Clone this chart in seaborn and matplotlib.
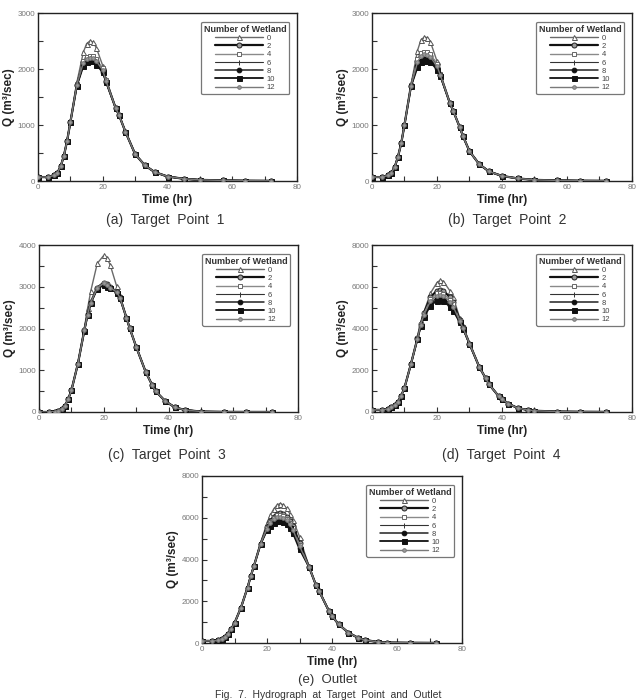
import matplotlib
matplotlib.use("Agg")
import matplotlib.pyplot as plt
import seaborn as sns
import numpy as np

sns.set_style("ticks")
plt.rcParams['font.family'] = ['Liberation Sans', 'DejaVu Sans']

WETLANDS = ["0", "2", "4", "6", "8", "10", "12"]
CAPTIONS = ["(a)  Target  Point  1", "(b)  Target  Point  2", "(c)  Target  Point  3",
            "(d)  Target  Point  4", "(e)  Outlet"]
YMAX = [3000, 3000, 4000, 8000, 8000]
YMAJOR = [1000, 1000, 1000, 2000, 2000]
XTICKS = [0, 20, 40, 60, 80]

# ---------------- Target Point 1 ----------------
time_a = [0, 3, 5, 6, 7, 8, 9, 10, 12, 14, 15, 16, 17, 18, 20, 21, 24, 25, 27, 30, 33, 36, 40, 45, 50, 57, 64, 72]
a_pre = [70, 70, 100, 150, 260, 450, 720, 1050]           # t = 0..10
a_post = [1300, 1180, 880, 480, 280, 160, 80, 40, 20, 10, 5, 3]   # t = 24..72
a_w0 = [1760, 2300, 2450, 2500, 2480, 2380, 2060, 1830]   # t = 12..21
a_w2 = [1720, 2120, 2190, 2210, 2200, 2150, 1990, 1790]
a_w4 = [1725, 2150, 2220, 2240, 2230, 2180, 2010, 1800]
a_w6 = [1715, 2090, 2170, 2190, 2180, 2120, 1970, 1780]
a_w8 = [1710, 2070, 2150, 2170, 2160, 2100, 1950, 1775]
a_w10 = [1700, 2050, 2130, 2150, 2140, 2080, 1940, 1770]
a_w12 = [1718, 2110, 2180, 2200, 2190, 2140, 1980, 1785]

# ---------------- Target Point 2 ----------------
time_b = [0, 3, 5, 6, 7, 8, 9, 10, 12, 14, 15, 16, 17, 18, 20, 21, 24, 25, 27, 28, 30, 33, 36, 40, 45, 50, 57, 64, 72]
b_pre = [70, 70, 100, 150, 250, 435, 675, 1005]
b_post = [1385, 1250, 960, 800, 530, 300, 170, 90, 45, 20, 10, 5, 3]
b_w0 = [1720, 2330, 2510, 2570, 2560, 2480, 2140, 1920]
b_w2 = [1705, 2150, 2260, 2290, 2280, 2240, 2070, 1900]
b_w4 = [1708, 2170, 2280, 2310, 2300, 2260, 2090, 1910]
b_w6 = [1695, 2080, 2170, 2200, 2190, 2160, 2030, 1890]
b_w8 = [1692, 2060, 2150, 2180, 2170, 2140, 2010, 1885]
b_w10 = [1690, 2030, 2120, 2150, 2150, 2120, 1990, 1880]
b_w12 = [1700, 2120, 2230, 2260, 2250, 2210, 2050, 1895]

# ---------------- Target Point 3 ----------------
time_c = [0, 3, 5, 6, 7, 8, 9, 10, 12, 14, 15, 16, 18, 20, 21, 22, 24, 25, 27, 28, 30, 33, 35, 36, 39, 42, 45, 50, 57, 64, 72]
c_pre = [0, 0, 10, 30, 80, 150, 305, 515, 1150]             # t = 0..12
c_post = [2260, 2010, 1565, 950, 640, 500, 260, 110, 50, 10, 3, 2, 1]  # t = 27..72
c_w0 = [2000, 2480, 2900, 3560, 3750, 3690, 3520, 3010, 2790]  # t = 14..25
c_w2 = [1960, 2340, 2630, 2980, 3100, 3060, 2990, 2880, 2745]
c_w4 = [1958, 2338, 2625, 2975, 3090, 3050, 2985, 2875, 2742]
c_w6 = [1952, 2332, 2620, 2960, 3060, 3025, 2970, 2870, 2738]
c_w8 = [1950, 2330, 2615, 2955, 3050, 3015, 2965, 2865, 2735]
c_w10 = [1948, 2328, 2610, 2950, 3040, 3005, 2960, 2860, 2732]
c_w12 = [1955, 2335, 2622, 2970, 3080, 3040, 2980, 2872, 2740]

# ---------------- Target Point 4 ----------------
time_d = [0, 3, 5, 6, 7, 8, 9, 10, 12, 14, 15, 16, 18, 20, 21, 22, 24, 25, 27, 28, 30, 33, 35, 36, 39, 40, 42, 45, 48, 50, 57, 64, 72]
d_pre = [100, 100, 150, 220, 330, 500, 780, 1160, 2310]     # t = 0..12
d_post = [2160, 1610, 1330, 750, 620, 390, 180, 100, 60, 20, 10, 5]  # t = 33..72
d_w0 = [3560, 4250, 4800, 5700, 6200, 6320, 6250, 5800, 5500, 4500, 4100, 3300]  # t = 14..30
d_w2 = [3540, 4230, 4750, 5500, 5820, 5850, 5800, 5500, 5250, 4400, 4050, 3280]
d_w4 = [3530, 4200, 4700, 5400, 5680, 5700, 5650, 5380, 5150, 4380, 4040, 3270]
d_w6 = [3510, 4150, 4620, 5250, 5480, 5500, 5450, 5200, 4980, 4330, 4020, 3260]
d_w8 = [3505, 4120, 4580, 5170, 5400, 5420, 5370, 5120, 4920, 4310, 4010, 3255]
d_w10 = [3500, 4100, 4550, 5100, 5330, 5350, 5300, 5050, 4850, 4300, 4000, 3250]
d_w12 = [3520, 4180, 4660, 5320, 5580, 5600, 5550, 5280, 5050, 4350, 4030, 3270]

# ---------------- Outlet ----------------
time_e = [0, 3, 5, 6, 7, 8, 9, 10, 12, 14, 15, 16, 18, 20, 21, 22, 23, 24, 25, 26, 27, 28, 30,
          33, 35, 36, 39, 40, 42, 45, 48, 50, 54, 57, 64, 72]
e_pre = [100, 100, 120, 200, 300, 450, 680, 950, 1700, 2650, 3200, 3700]   # t = 0..16
e_post = [3620, 2800, 2500, 1550, 1300, 900, 500, 250, 150, 50, 20, 10, 5]  # t = 33..72
e_w0 = [4780, 5750, 6120, 6400, 6600, 6680, 6620, 6450, 6200, 5900, 5100]  # t = 18..30
e_w2 = [4750, 5550, 5850, 6050, 6200, 6250, 6200, 6050, 5850, 5600, 4800]
e_w4 = [4750, 5500, 5800, 6000, 6120, 6150, 6100, 5950, 5750, 5500, 4700]
e_w6 = [4730, 5450, 5700, 5870, 5970, 6000, 5950, 5820, 5620, 5370, 4600]
e_w8 = [4730, 5420, 5650, 5810, 5900, 5920, 5880, 5750, 5560, 5320, 4560]
e_w10 = [4720, 5400, 5600, 5750, 5830, 5850, 5800, 5680, 5500, 5250, 4500]
e_w12 = [4740, 5480, 5750, 5920, 6020, 6050, 6000, 5870, 5680, 5420, 4650]

panels = [
    (time_a, a_pre, [a_w0, a_w2, a_w4, a_w6, a_w8, a_w10, a_w12], a_post),
    (time_b, b_pre, [b_w0, b_w2, b_w4, b_w6, b_w8, b_w10, b_w12], b_post),
    (time_c, c_pre, [c_w0, c_w2, c_w4, c_w6, c_w8, c_w10, c_w12], c_post),
    (time_d, d_pre, [d_w0, d_w2, d_w4, d_w6, d_w8, d_w10, d_w12], d_post),
    (time_e, e_pre, [e_w0, e_w2, e_w4, e_w6, e_w8, e_w10, e_w12], e_post),
]

# styles: (line colour, linewidth, marker, marker face, marker edge, marker size)
STYLES = [
    ("#6a6a6a", 1.0, "^", "white", "#555555", 3.6),
    ("#111111", 1.6, "o", "#9a9a9a", "#222222", 3.6),
    ("#8a8a8a", 1.0, "s", "white", "#666666", 3.4),
    ("#333333", 0.8, "+", "#333333", "#333333", 3.6),
    ("#222222", 1.1, "o", "#111111", "#111111", 3.4),
    ("#111111", 1.3, "s", "#111111", "#111111", 3.6),
    ("#7a7a7a", 1.0, "o", "#9a9a9a", "#777777", 2.6),
]

W, H = 642, 700
fig = plt.figure(figsize=(W / 100, H / 100), dpi=100)
fig.patch.set_facecolor("white")

# axes rectangles in pixels: left, top, right, bottom
RECTS = [(38, 13, 297, 181), (372, 13, 632, 181),
         (39, 245, 298, 412), (372, 245, 632, 412),
         (202, 476, 462, 643)]
CAP_POS = [(165, 220), (507, 220), (167, 455), (501, 455), (328, 680)]
CAP_SIZE = [10, 10, 10, 10, 9.5]

for i, (t, pre, series, post) in enumerate(panels):
    l, tp, r, b = RECTS[i]
    ax = fig.add_axes([l / W, 1 - b / H, (r - l) / W, (b - tp) / H])
    for k, mid in enumerate(series):
        q = pre + mid + post
        col, lw, mk, mfc, mec, ms = STYLES[k]
        sns.lineplot(x=t, y=q, ax=ax, color=col, linewidth=lw, marker=mk,
                     markerfacecolor=mfc, markeredgecolor=mec, markersize=ms,
                     markeredgewidth=0.7, label=WETLANDS[k], sort=False, zorder=3 + k * 0.1)
    ax.set_xlim(0, 80)
    ax.set_ylim(0, YMAX[i])
    ax.set_xticks(XTICKS)
    ax.set_xticks([10, 30, 50, 70], minor=True)
    ax.set_yticks(np.arange(0, YMAX[i] + 1, YMAJOR[i]))
    ax.set_yticks(np.arange(YMAJOR[i] / 2, YMAX[i], YMAJOR[i]), minor=True)
    ax.tick_params(which="both", direction="in", labelsize=5.8, labelcolor="#777777",
                   color="#333333", width=0.8, pad=2)
    ax.tick_params(which="major", length=3.5)
    ax.tick_params(which="minor", length=3.5)
    for sp in ax.spines.values():
        sp.set_linewidth(1.0)
        sp.set_color("#222222")
    ax.set_xlabel("Time (hr)", fontsize=8.5, fontweight="bold", color="#222222", labelpad=2)
    ax.set_ylabel("Q (m³/sec)", fontsize=8.5, fontweight="bold", color="#222222", labelpad=2)
    leg = ax.legend(title="Number of Wetland", loc="upper right", bbox_to_anchor=(0.985, 0.97),
                    fontsize=5.5, title_fontsize=6.5, handlelength=6.2, handletextpad=0.5,
                    labelspacing=0.12, borderpad=0.35, frameon=True, fancybox=True,
                    edgecolor="#777777", framealpha=1)
    leg.get_frame().set_linewidth(0.9)
    leg.get_title().set_fontweight("bold")
    leg.get_title().set_color("#333333")
    for txt in leg.get_texts():
        txt.set_color("#444444")
    cx, cy = CAP_POS[i]
    fig.text(cx / W, 1 - cy / H, CAPTIONS[i], ha="center", va="center",
             fontsize=CAP_SIZE[i], color="#333333")

fig.text(328 / W, 1 - 694.5 / H, "Fig.  7.  Hydrograph  at  Target  Point  and  Outlet",
         ha="center", va="center", fontsize=7.5, color="#333333")

fig.savefig("out.png", dpi=100, facecolor="white")
